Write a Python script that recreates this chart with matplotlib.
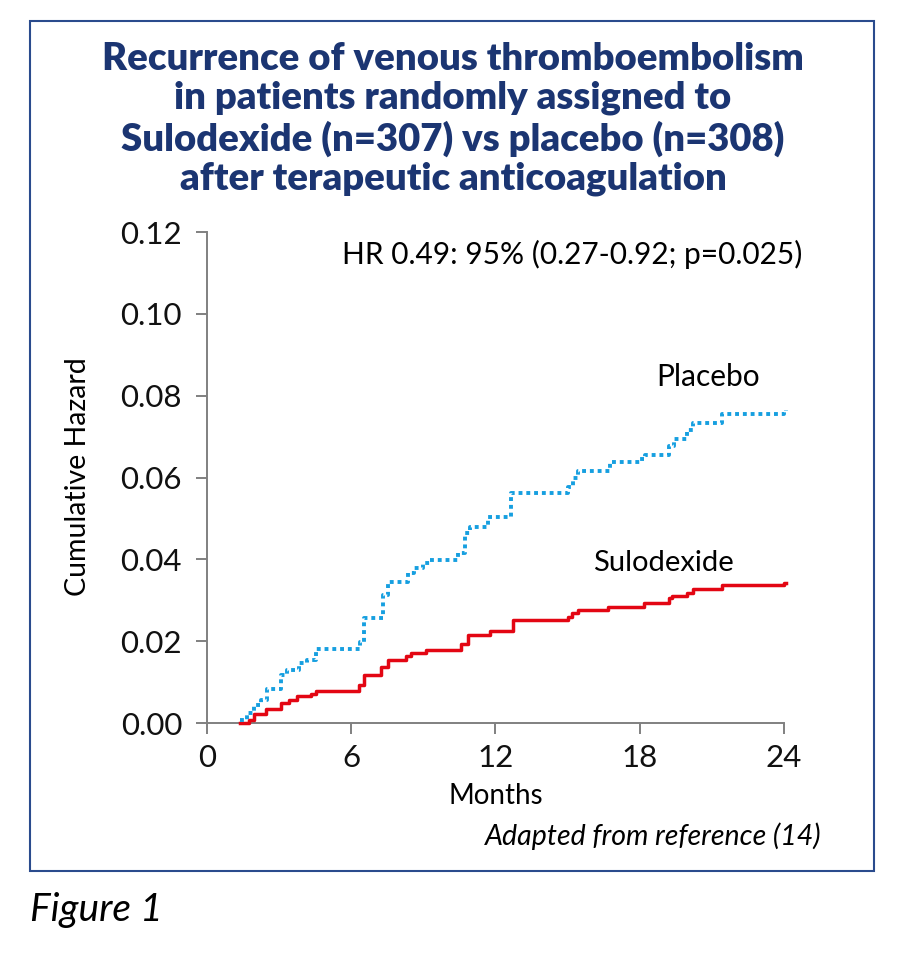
import matplotlib
matplotlib.use("Agg")
import matplotlib.pyplot as plt
from matplotlib.patches import Rectangle

plt.rcParams['font.family'] = ['Lato', 'DejaVu Sans']

# Step data (months, cumulative hazard)
placebo_months = [1.36, 1.65, 1.95, 2.23, 2.48, 3.06, 3.34, 3.83, 4.18, 4.52,
                  6.37, 6.54, 7.31, 7.52, 8.35, 8.63, 8.98, 9.26, 10.44, 10.72,
                  10.93, 11.69, 12.66, 15.03, 15.24, 15.45, 16.77, 18.02, 18.23,
                  19.21, 19.42, 19.97, 20.21, 21.43, 24.0, 24.1]
placebo_hazard = [0.0007, 0.0024, 0.0043, 0.0057, 0.0084, 0.0117, 0.0129, 0.0147,
                  0.0153, 0.0180, 0.0198, 0.0256, 0.0313, 0.0345, 0.0366, 0.0380,
                  0.0390, 0.0398, 0.0415, 0.0464, 0.0480, 0.0504, 0.0562, 0.0578,
                  0.0598, 0.0617, 0.0637, 0.0645, 0.0655, 0.0676, 0.0694, 0.0715,
                  0.0734, 0.0755, 0.0762, 0.0765]

sulo_months = [1.36, 1.74, 1.95, 2.44, 3.06, 3.41, 3.76, 4.31, 4.52, 6.33, 6.54,
               7.24, 7.52, 8.28, 8.49, 9.12, 10.58, 10.86, 11.76, 12.73, 15.03,
               15.2, 15.45, 16.70, 18.16, 19.21, 19.35, 19.97, 20.21, 21.43, 24.0, 24.1]
sulo_hazard = [0.0, 0.0008, 0.0023, 0.0035, 0.0049, 0.0057, 0.0065, 0.0072, 0.0078,
               0.0092, 0.0117, 0.0137, 0.0155, 0.0163, 0.0171, 0.0178, 0.0194, 0.0215,
               0.0226, 0.0251, 0.0258, 0.0268, 0.0276, 0.0284, 0.0294, 0.0305, 0.0311,
               0.0318, 0.0327, 0.0337, 0.0342, 0.0343]

x_ticks = [0, 6, 12, 18, 24]
y_ticks = [0.00, 0.02, 0.04, 0.06, 0.08, 0.10, 0.12]

navy = '#1b3572'
W, H = 915, 955

def fx(px):
    return px / W

def fy(py):
    return 1 - py / H

fig = plt.figure(figsize=(W / 100, H / 100), dpi=100)
ax = fig.add_axes([fx(207), fy(723), (784 - 207) / W, (723 - 232) / H])

ax.step(sulo_months, sulo_hazard, where='post', color='#e30613', lw=2.5, clip_on=False, zorder=3)
ax.step(placebo_months, placebo_hazard, where='post', color='#169fe0', lw=2.8,
        linestyle=(0, (1, 1)), dash_capstyle='butt', clip_on=False, zorder=3)

ax.set_xlim(0, 24)
ax.set_ylim(0, 0.12)
ax.set_xticks(x_ticks)
ax.set_yticks(y_ticks)
ax.set_yticklabels(['%.2f' % v for v in y_ticks])
for s in ['top', 'right']:
    ax.spines[s].set_visible(False)
for s in ['left', 'bottom']:
    ax.spines[s].set_color('#808080')
    ax.spines[s].set_linewidth(1.4)
ax.tick_params(axis='both', direction='out', length=8, width=1.4, color='#808080',
               labelsize=22.5, labelcolor='#111111')
ax.tick_params(axis='y', pad=10)
ax.tick_params(axis='x', pad=7)

ax.text(15.2, 0.1145, 'HR 0.49: 95% (0.27-0.92; p=0.025)', fontsize=21.5, ha='center', va='center')
ax.text(20.85, 0.0846, 'Placebo', fontsize=21.5, ha='center', va='center')
ax.text(19.0, 0.0391, 'Sulodexide', fontsize=21, ha='center', va='center')

fig.text(fx(496), fy(796), 'Months', fontsize=20, ha='center', va='center')
fig.text(fx(78), fy(477), 'Cumulative Hazard', fontsize=20.5, ha='center', va='center', rotation=90)
fig.text(fx(822), fy(836), 'Adapted from reference (14)', fontsize=20.5, style='italic',
         ha='right', va='center')
fig.text(fx(30), fy(910), 'Figure 1', fontsize=28, style='italic', ha='left', va='center')

title = ('Recurrence of venous thromboembolism\n'
         'in patients randomly assigned to\n'
         'Sulodexide (n=307) vs placebo (n=308)\n'
         'after terapeutic anticoagulation')
fig.text(fx(453), fy(119), title, fontsize=27.5, fontweight='heavy', color=navy,
         ha='center', va='center', linespacing=1.17)

fig.patches.append(Rectangle((fx(30), fy(871)), (874 - 30) / W, (871 - 21) / H,
                             transform=fig.transFigure, fill=False, edgecolor='#2a4b8d', lw=1.5))

fig.savefig('out.png', dpi=100)
